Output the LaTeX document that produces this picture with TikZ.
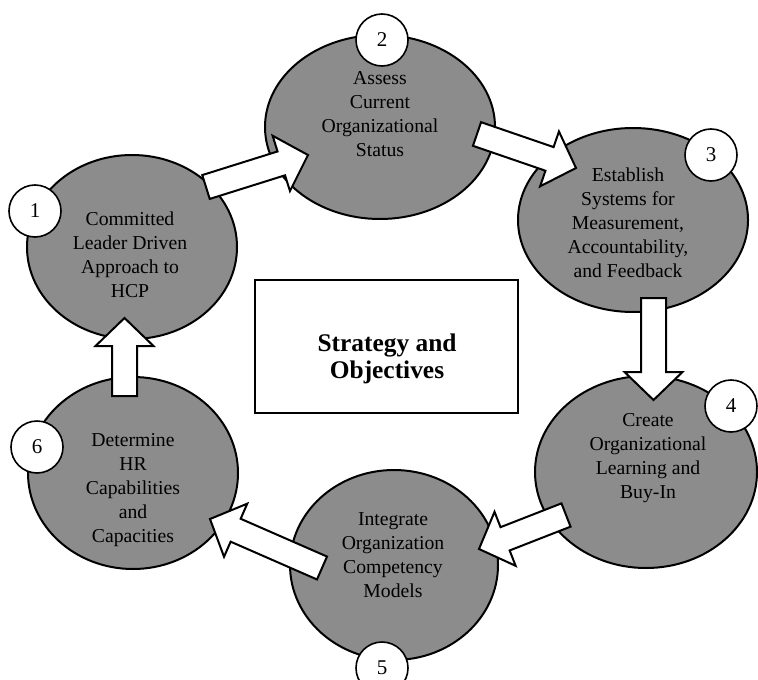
\documentclass[tikz,border=0pt]{standalone}
\usepackage{fontspec}
\setmainfont{Liberation Serif}
\usetikzlibrary{shapes.geometric,calc}

\begin{document}
\begin{tikzpicture}[x=0.5pt, y=-0.5pt,
  stufe/.style={ellipse, draw=black, line width=1pt, fill=black!45, inner sep=0pt},
  stufentext/.style={align=center, font=\fontsize{9.85pt}{12pt}\selectfont},
  nummer/.style={circle, draw=black, line width=0.8pt, fill=white,
    minimum size=26pt, inner sep=0pt, font=\fontsize{10.5pt}{12pt}\selectfont},
  pfeil/.style={draw=black, line width=1pt, fill=white, line join=miter}]
  \useasboundingbox (0,0) rectangle (758,679);

  % Sechs Stufen im Kreis
  \node[stufe, minimum width=105pt, minimum height=92pt] (e1) at (132,247) {};
  \node[stufe, minimum width=115pt, minimum height=92pt] (e2) at (380,127) {};
  \node[stufe, minimum width=115pt, minimum height=92pt] (e3) at (633,220) {};
  \node[stufe, minimum width=111pt, minimum height=96pt] (e4) at (646,472) {};
  \node[stufe, minimum width=104pt, minimum height=95pt] (e5) at (394,565) {};
  \node[stufe, minimum width=105pt, minimum height=96pt] (e6) at (133,473) {};

  \node[stufentext] (t1) at (130,255) {Committed\\Leader Driven\\Approach to\\HCP};
  \node[stufentext] (t2) at (380,114) {Assess\\Current\\Organizational\\Status};
  \node[stufentext] (t3) at (628,223) {Establish\\Systems for\\Measurement,\\Accountability,\\and Feedback};
  \node[stufentext] (t4) at (648,458) {Create\\Organizational\\Learning and\\Buy-In};
  \node[stufentext] (t5) at (393,555) {Integrate\\Organization\\Competency\\Models};
  \node[stufentext] (t6) at (133,490) {Determine\\HR\\Capabilities\\and\\Capacities};

  % Mitte
  \node[draw=black, line width=0.8pt, fill=white, minimum width=131.5pt,
    minimum height=66.5pt, inner sep=0pt] (ziel) at (386.5,346.5) {};
  \node[align=center, font=\fontsize{12.7pt}{13.5pt}\selectfont\bfseries]
    (zieltext) at (387,359) {Strategy and\\Objectives};

  % Blockpfeile von Stufe zu Stufe
  \coordinate (p12a) at (206,187);   \coordinate (p12b) at (308,155);
  \coordinate (p23a) at (477,134);   \coordinate (p23b) at (576,168);
  \coordinate (p34a) at (653.5,298); \coordinate (p34b) at (653.5,400);
  \coordinate (p45a) at (566,515);   \coordinate (p45b) at (479,549);
  \coordinate (p56a) at (322,568);   \coordinate (p56b) at (210,519);
  \coordinate (p61a) at (124.5,396); \coordinate (p61b) at (124.5,318);
  \foreach \von/\nach in {p12a/p12b, p23a/p23b, p34a/p34b, p45a/p45b, p56a/p56b, p61a/p61b} {
    \coordinate (basis) at ($(\nach)!14pt!(\von)$);
    \draw[pfeil] ($(\von)!6.25pt!90:(\nach)$) -- ($(basis)!6.25pt!90:(\nach)$)
      -- ($(basis)!14.5pt!90:(\nach)$) -- (\nach)
      -- ($(basis)!14.5pt!-90:(\nach)$) -- ($(basis)!6.25pt!-90:(\nach)$)
      -- ($(\von)!6.25pt!-90:(\nach)$) -- cycle;
  }

  % Nummern
  \node[nummer] (n1) at (35,211)  {1};
  \node[nummer] (n2) at (382,40)  {2};
  \node[nummer] (n3) at (711,155) {3};
  \node[nummer] (n4) at (731,406) {4};
  \node[nummer] (n5) at (382,668) {5};
  \node[nummer] (n6) at (37,447)  {6};
\end{tikzpicture}
\end{document}
